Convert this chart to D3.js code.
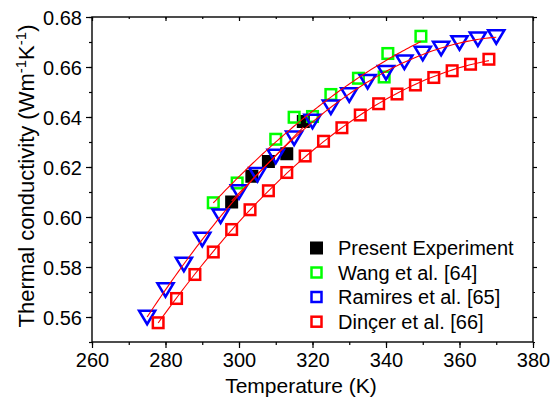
<!DOCTYPE html>
<html>
<head>
<meta charset="utf-8">
<script src="https://cdn.jsdelivr.net/npm/d3@7"></script>
<style>
  html, body { margin: 0; padding: 0; background: #fff; }
  svg { display: block; font-family: "Liberation Sans", Arial, sans-serif; }
</style>
</head>
<body>
<svg id="chart" width="553" height="402"></svg>
<script>
// ---- data ----
const presentT = [298, 303.5, 308, 313, 317.5];
const presentK = [0.606, 0.6163, 0.6222, 0.6253, 0.6382];

const wangT = [293, 299.5, 310, 315, 320, 325, 332.5, 339.5, 340.5, 349.5];
const wangK = [0.6057, 0.6136, 0.6311, 0.6399, 0.6402, 0.6490, 0.6555, 0.6560, 0.6654, 0.6723];

const ramiresT = [275, 280, 285, 290, 295, 300, 305, 310, 315, 320, 325, 330, 335, 340, 345, 350, 355, 360, 365, 370];
const ramiresK = [0.5598, 0.5708, 0.5810, 0.5910, 0.6003, 0.6100, 0.6169, 0.6242, 0.6315, 0.6382,
                  0.6439, 0.6488, 0.6541, 0.6577, 0.6619, 0.6654, 0.6674, 0.6696, 0.6711, 0.6720];

const dincerT = [278, 283, 288, 293, 298, 303, 308, 313, 318, 323, 328, 333, 338, 343, 348, 353, 358, 363, 368];
const dincerK = [0.5577, 0.5674, 0.5770, 0.5860, 0.5950, 0.6029, 0.6105, 0.6178, 0.6244, 0.6303,
                 0.6357, 0.6408, 0.6453, 0.6492, 0.6528, 0.6558, 0.6585, 0.6611, 0.6631];

const xTicks = [260, 280, 300, 320, 340, 360, 380];
const yTicks = [0.56, 0.58, 0.60, 0.62, 0.64, 0.66, 0.68];
const legendLabels = ["Present Experiment", "Wang et al. [64]", "Ramires et al. [65]", "Dinçer et al. [66]"];

// ---- layout ----
const svg = d3.select("#chart");
const PL = 92, PR = 533, PT = 17, PB = 342;
const x = d3.scaleLinear().domain([260, 380]).range([PL, PR]);
const y = d3.scaleLinear().domain([0.55, 0.68]).range([PB, PT]);

// polynomial least-squares fit
function polyFit(xs, ys, order) {
  const n = order + 1;
  const A = Array.from({length: n}, () => new Array(n + 1).fill(0));
  const x0 = d3.mean(xs);
  xs.forEach((xv, i) => {
    const u = xv - x0;
    for (let r = 0; r < n; r++) {
      for (let c = 0; c < n; c++) A[r][c] += Math.pow(u, r + c);
      A[r][n] += ys[i] * Math.pow(u, r);
    }
  });
  for (let i = 0; i < n; i++) {
    let p = i;
    for (let k = i + 1; k < n; k++) if (Math.abs(A[k][i]) > Math.abs(A[p][i])) p = k;
    [A[i], A[p]] = [A[p], A[i]];
    for (let k = i + 1; k < n; k++) {
      const f = A[k][i] / A[i][i];
      for (let c = i; c <= n; c++) A[k][c] -= f * A[i][c];
    }
  }
  const coef = new Array(n).fill(0);
  for (let i = n - 1; i >= 0; i--) {
    let s = A[i][n];
    for (let c = i + 1; c < n; c++) s -= A[i][c] * coef[c];
    coef[i] = s / A[i][i];
  }
  return t => coef.reduce((acc, cf, k) => acc + cf * Math.pow(t - x0, k), 0);
}

// ---- axes frame ----
const axisG = svg.append("g");
const xMinor = d3.range(260, 381, 10);
const yMinor = d3.range(0, 14).map(i => 0.55 + i * 0.01);

const axBottom = d3.axisBottom(x).tickValues(xTicks).tickSize(6).tickFormat(d3.format("d"));
const axBottomMinor = d3.axisBottom(x).tickValues(xMinor).tickSize(3).tickFormat("");
const axLeft = d3.axisLeft(y).tickValues(yTicks).tickSize(6).tickFormat(d3.format(".2f"));
const axLeftMinor = d3.axisLeft(y).tickValues(yMinor).tickSize(3).tickFormat("");
const axTop = d3.axisBottom(x).tickValues(xTicks).tickSize(4).tickFormat("");
const axTopMinor = d3.axisBottom(x).tickValues(xMinor).tickSize(2).tickFormat("");
const axRight = d3.axisRight(y).tickValues(yTicks).tickSize(4).tickFormat("");
const axRightMinor = d3.axisRight(y).tickValues(yMinor).tickSize(2).tickFormat("");

function styleAxis(g) {
  g.selectAll(".domain").remove();
  g.selectAll("line").attr("stroke", "#000").attr("stroke-width", 1.2);
  g.selectAll("text").attr("fill", "#000").attr("font-size", 20)
    .attr("font-family", "Liberation Sans, Arial, sans-serif");
}

axisG.append("g").attr("transform", `translate(0,${PB})`).call(axBottomMinor).call(styleAxis);
axisG.append("g").attr("transform", `translate(0,${PB})`).call(axBottom).call(styleAxis)
  .selectAll("text").attr("dy", "0.95em").attr("y", 6);
axisG.append("g").attr("transform", `translate(${PL},0)`).call(axLeftMinor).call(styleAxis);
axisG.append("g").attr("transform", `translate(${PL},0)`).call(axLeft).call(styleAxis)
  .selectAll("text").attr("x", -10).attr("dy", "0.36em");
axisG.append("g").attr("transform", `translate(0,${PT})`).call(axTopMinor).call(styleAxis);
axisG.append("g").attr("transform", `translate(0,${PT})`).call(axTop).call(styleAxis);
axisG.append("g").attr("transform", `translate(${PR},0)`).call(axRightMinor).call(styleAxis);
axisG.append("g").attr("transform", `translate(${PR},0)`).call(axRight).call(styleAxis);

// frame
svg.append("rect").attr("x", PL).attr("y", PT).attr("width", PR - PL).attr("height", PB - PT)
  .attr("fill", "none").attr("stroke", "#000").attr("stroke-width", 1.4);

// axis titles
svg.append("text").attr("x", 301).attr("y", 393).attr("text-anchor", "middle")
  .attr("font-size", 21).attr("fill", "#000").text("Temperature (K)");

const yt = svg.append("text").attr("transform", "translate(34,176) rotate(-90)")
  .attr("text-anchor", "middle").attr("font-size", 22).attr("fill", "#000");
yt.append("tspan").text("Thermal conductivity (Wm");
yt.append("tspan").attr("font-size", 15).attr("dy", -8).text("-1");
yt.append("tspan").attr("dy", 8).text("K");
yt.append("tspan").attr("font-size", 15).attr("dy", -8).text("-1");
yt.append("tspan").attr("dy", 8).text(")");

// ---- markers ----
const plot = svg.append("g");
const sq = 10.6;

function pts(ts, ks) { return ts.map((t, i) => ({t, k: ks[i]})); }

plot.selectAll(".pres").data(pts(presentT, presentK)).enter().append("rect")
  .attr("x", d => x(d.t) - 6.5).attr("y", d => y(d.k) - 6.5)
  .attr("width", 13).attr("height", 13).attr("fill", "#000");

plot.selectAll(".wang").data(pts(wangT, wangK)).enter().append("rect")
  .attr("x", d => x(d.t) - sq / 2).attr("y", d => y(d.k) - sq / 2)
  .attr("width", sq).attr("height", sq)
  .attr("fill", "none").attr("stroke", "#00ff00").attr("stroke-width", 2.5);

const tri = "M-8,-6.7L8,-6.7L0,6.7Z";
plot.selectAll(".ram").data(pts(ramiresT, ramiresK)).enter().append("path")
  .attr("d", tri).attr("transform", d => `translate(${x(d.t)},${y(d.k)})`)
  .attr("fill", "none").attr("stroke", "#0000ff").attr("stroke-width", 2.6)
  .attr("stroke-linejoin", "miter");

plot.selectAll(".din").data(pts(dincerT, dincerK)).enter().append("rect")
  .attr("x", d => x(d.t) - sq / 2).attr("y", d => y(d.k) - sq / 2)
  .attr("width", sq).attr("height", sq)
  .attr("fill", "none").attr("stroke", "#ff0000").attr("stroke-width", 2.5);

// ---- fit lines ----
const line = d3.line().x(d => x(d[0])).y(d => y(d[1]));
function drawFit(ts, ks, order) {
  const f = polyFit(ts, ks, order);
  const t0 = d3.min(ts), t1 = d3.max(ts);
  const samples = d3.range(0, 101).map(i => t0 + (t1 - t0) * i / 100);
  svg.append("path").attr("d", line(samples.map(t => [t, f(t)])))
    .attr("fill", "none").attr("stroke", "#ff0000").attr("stroke-width", 1.1);
}
drawFit(wangT, wangK, 2);
drawFit(ramiresT, ramiresK, 2);
drawFit(dincerT, dincerK, 2);
drawFit(presentT, presentK, 1);

// ---- legend ----
const legY = [248, 272.5, 297, 321.7];
const lg = svg.append("g");
lg.append("rect").attr("x", 310).attr("y", legY[0] - 6.5).attr("width", 13).attr("height", 13).attr("fill", "#000");
const legCols = ["#00ff00", "#0000ff", "#ff0000"];
legCols.forEach((c, i) => {
  lg.append("rect").attr("x", 316.5 - 5).attr("y", legY[i + 1] - 5).attr("width", 10).attr("height", 10)
    .attr("fill", "none").attr("stroke", c).attr("stroke-width", 2.5);
});
legendLabels.forEach((s, i) => {
  lg.append("text").attr("x", 338).attr("y", legY[i] + 7).attr("font-size", 20)
    .attr("fill", "#000").text(s);
});
</script>
</body>
</html>
